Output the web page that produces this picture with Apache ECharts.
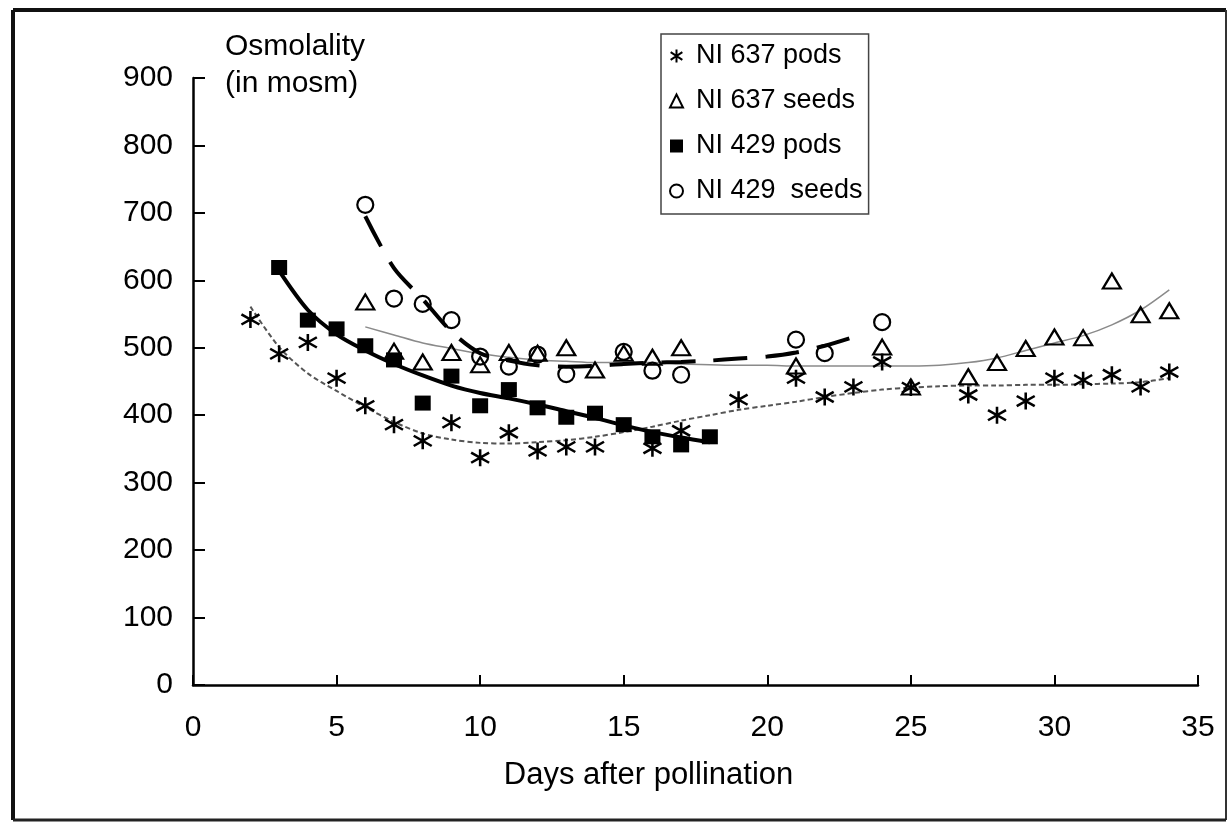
<!DOCTYPE html>
<html>
<head>
<meta charset="utf-8">
<script src="https://cdn.jsdelivr.net/npm/echarts@6/dist/echarts.min.js"></script>
<style>
html,body{margin:0;padding:0;background:#fff;}
#chart{width:1231px;height:825px;}
</style>
</head>
<body>
<div id="chart"></div>
<script>
// ---- data ----
const xTicks = [0, 5, 10, 15, 20, 25, 30, 35];
const yTicks = [0, 100, 200, 300, 400, 500, 600, 700, 800, 900];

const seriesNames = ['NI 637 pods', 'NI 637 seeds', 'NI 429 pods', 'NI 429  seeds'];

const days637pods = [2,3,4,5,6,7,8,9,10,11,12,13,14,16,17,19,21,22,23,24,25,27,28,29,30,31,32,33,34];
const osm637pods  = [542,491,508,455,414,386,362,389,337,374,347,353,353,351,377,423,455,427,442,479,441,430,400,421,455,452,460,442,464];

const days637seeds = [6,7,8,9,10,11,12,13,14,15,16,17,21,24,25,27,28,29,30,31,32,33,34];
const osm637seeds  = [568,495,479,493,475,493,492,500,467,492,486,500,473,501,442,457,478,499,516,515,599,549,555];

const days429pods = [3,4,5,6,7,8,9,10,11,12,13,14,15,16,17,18];
const osm429pods  = [619,541,528,503,482,418,458,414,438,411,397,403,386,368,356,368];

const days429seeds = [6,7,8,9,10,11,12,13,15,16,17,21,22,24];
const osm429seeds  = [712,573,565,541,487,472,490,461,494,466,460,512,492,538];

// fitted trend curves
const trend637podsX = [2,3,4,5,6,7,8,9,10,11,12,13,14,15,16,17,18,19,20,21,22,23,24,25,26,27,28,29,30,31,32,33,34];
const trend637podsY = [561,501,462,436,412,390,373,364,359,358,360,363,368,375,383,392,400,408,414,420,427,433,438,441,443,444,444,445,445,446,447,449,455];

const trend637seedsX = [6,7,8,9,10,11,12,13,14,15,16,17,18,19,20,21,22,23,24,25,26,27,28,29,30,31,32,33,34];
const trend637seedsY = [531,519,507,499,491,486,482,480,478,478,478,476,475,474,474,473,473,473,473,473,474,478,485,496,507,518,534,556,586];

const trend429podsX = [3,4,5,6,7,8,9,10,11,12,13,14,15,16,17,18];
const trend429podsY = [614,556,520,496,476,459,444,433,425,416,406,396,385,375,367,360];

const trend429seedsX = [6,7,8,9,10,11,12,13,14,15,16,17,18,19,20,21,22,23];
const trend429seedsY = [695,618,572,524,492,481,474,472,473,476,478,479,481,484,487,493,503,516];

// ---- helpers ----
const zip = (xs, ys) => xs.map((x, i) => [x, ys[i]]);
const FONT = '"Liberation Sans", Arial, sans-serif';
const ASTER = 'path://M10,0L10,20M1,4L19,16M1,16L19,4';
const HOLLOW = 'rgba(255,255,255,0)';

const chart = echarts.init(document.getElementById('chart'), null, {renderer: 'canvas'});

const option = {
  backgroundColor: '#fff',
  animation: false,
  grid: {left: 193, right: 33, top: 78, bottom: 140, containLabel: false},
  xAxis: {
    type: 'value',
    min: xTicks[0], max: xTicks[xTicks.length - 1], interval: 5,
    name: 'Days after pollination',
    nameLocation: 'middle',
    nameGap: 75,
    nameTextStyle: {fontFamily: FONT, fontSize: 31, color: '#000', padding: [0, 94, 0, 0]},
    axisLine: {show: true, lineStyle: {color: '#000', width: 2.5}},
    axisTick: {show: true, inside: true, length: 10, lineStyle: {color: '#000', width: 2}},
    axisLabel: {fontFamily: FONT, fontSize: 30, color: '#000', margin: 28},
    splitLine: {show: false}
  },
  yAxis: {
    type: 'value',
    min: yTicks[0], max: yTicks[yTicks.length - 1], interval: 100,
    name: 'Osmolality\n(in mosm)',
    nameLocation: 'end',
    nameGap: 50,
    nameTextStyle: {fontFamily: FONT, fontSize: 30, color: '#000', align: 'left', verticalAlign: 'top', lineHeight: 37, padding: [0, 0, 0, 32]},
    axisLine: {show: true, lineStyle: {color: '#000', width: 2.5}},
    axisTick: {show: true, inside: true, length: 12, lineStyle: {color: '#000', width: 2}},
    axisLabel: {fontFamily: FONT, fontSize: 30, color: '#000', margin: 20},
    splitLine: {show: false}
  },
  legend: {
    orient: 'vertical',
    left: 661, top: 34,
    padding: [7, 6, 8, 8],
    itemGap: 15,
    itemWidth: 13, itemHeight: 13,
    backgroundColor: '#fff',
    borderColor: '#444', borderWidth: 1.5,
    textStyle: {fontFamily: FONT, fontSize: 27, color: '#000', lineHeight: 30, padding: [0, 0, 0, 8]},
    data: [
      {name: seriesNames[0], icon: ASTER},
      {name: seriesNames[1], icon: 'triangle'},
      {name: seriesNames[2], icon: 'rect'},
      {name: seriesNames[3], icon: 'circle'}
    ]
  },
  series: [
    {
      type: 'line', name: 'trend637pods', data: zip(trend637podsX, trend637podsY),
      smooth: 0.3, showSymbol: false, symbol: 'none', z: 1,
      lineStyle: {color: '#555', width: 2, type: [5, 3]}
    },
    {
      type: 'line', name: 'trend637seeds', data: zip(trend637seedsX, trend637seedsY),
      smooth: 0.3, showSymbol: false, symbol: 'none', z: 1,
      lineStyle: {color: '#8a8a8a', width: 1.5}
    },
    {
      type: 'line', name: 'trend429pods', data: zip(trend429podsX, trend429podsY),
      smooth: 0.3, showSymbol: false, symbol: 'none', z: 1,
      lineStyle: {color: '#000', width: 4}
    },
    {
      type: 'line', name: 'trend429seeds', data: zip(trend429seedsX, trend429seedsY),
      smooth: 0.3, showSymbol: false, symbol: 'none', z: 1,
      lineStyle: {color: '#000', width: 4, type: [34, 18]}
    },
    {
      type: 'scatter', name: seriesNames[0], data: zip(days637pods, osm637pods),
      symbol: ASTER, symbolSize: [18, 17], z: 3,
      itemStyle: {color: HOLLOW, borderColor: '#000', borderWidth: 2.5, opacity: 1}
    },
    {
      type: 'scatter', name: seriesNames[1], data: zip(days637seeds, osm637seeds),
      symbol: 'triangle', symbolSize: [18, 15], z: 3,
      itemStyle: {color: HOLLOW, borderColor: '#000', borderWidth: 2.2, opacity: 1}
    },
    {
      type: 'scatter', name: seriesNames[2], data: zip(days429pods, osm429pods),
      symbol: 'rect', symbolSize: [16, 15], z: 3,
      itemStyle: {color: '#000', opacity: 1}
    },
    {
      type: 'scatter', name: seriesNames[3], data: zip(days429seeds, osm429seeds),
      symbol: 'circle', symbolSize: 16, z: 3,
      itemStyle: {color: HOLLOW, borderColor: '#000', borderWidth: 2.2, opacity: 1}
    }
  ],
  graphic: [
    {type: 'line', shape: {x1: 13, y1: 10, x2: 1226, y2: 10}, style: {stroke: '#111', lineWidth: 4}, silent: true},
    {type: 'line', shape: {x1: 13, y1: 10, x2: 13, y2: 820}, style: {stroke: '#111', lineWidth: 4}, silent: true},
    {type: 'line', shape: {x1: 1226, y1: 10, x2: 1226, y2: 820}, style: {stroke: '#333', lineWidth: 2}, silent: true},
    {type: 'line', shape: {x1: 13, y1: 820, x2: 1226, y2: 820}, style: {stroke: '#222', lineWidth: 3}, silent: true}
  ]
};

chart.setOption(option);
</script>
</body>
</html>
